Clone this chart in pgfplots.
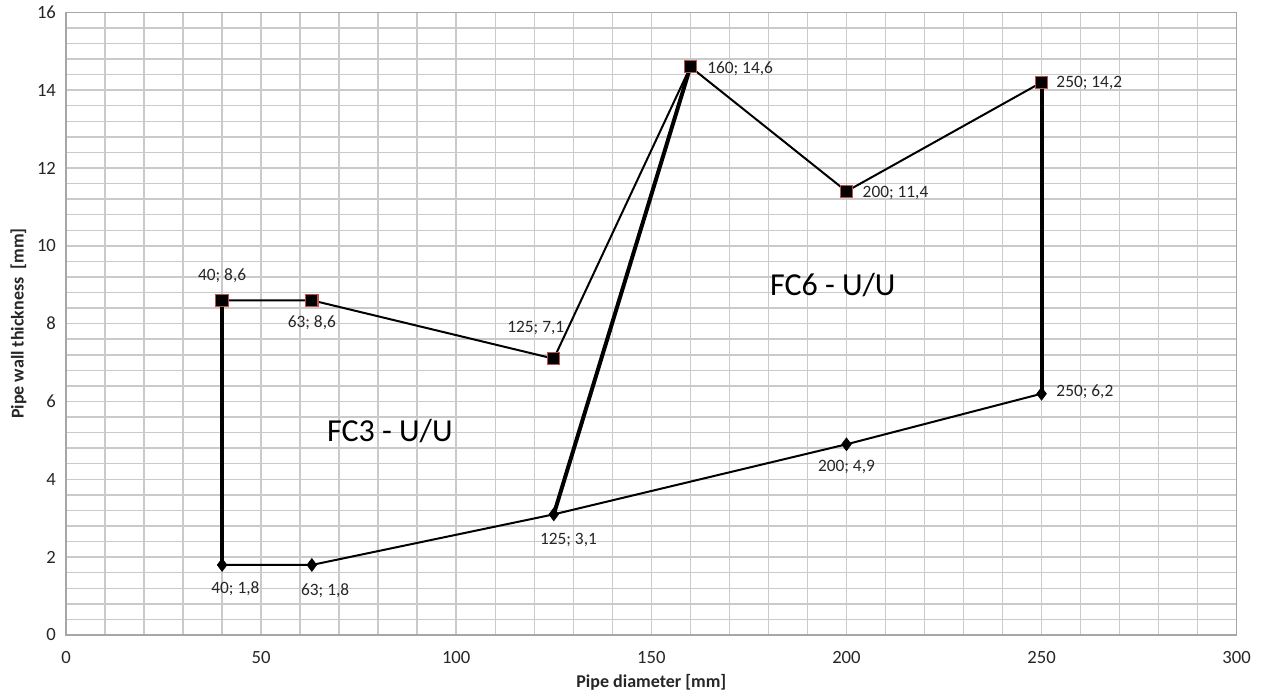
\documentclass[border=0pt]{standalone}
\usepackage{pgfplots}
\pgfplotsset{compat=1.18}
\usepackage{fontspec}
\setmainfont{Carlito}

\definecolor{gridgray}{HTML}{CACACA}
\definecolor{framegray}{HTML}{A6A6A6}
\definecolor{mkred}{HTML}{C0504D}
\definecolor{txt}{HTML}{262626}

\begin{document}
\begin{tikzpicture}
\useasboundingbox (-49.5pt,-48.75pt) rectangle (896.25pt,476.25pt);
\begin{axis}[
    scale only axis,
    width=878pt, height=467pt,
    xmin=0, xmax=300, ymin=0, ymax=16,
    xtick={0,50,...,300}, ytick={0,2,...,16},
    minor x tick num=4,
    minor y tick num=4,
    grid=both,
    major grid style={gridgray, line width=1.1pt},
    minor grid style={gridgray, line width=1.1pt},
    axis line style={framegray, line width=1.2pt},
    major tick length=0pt, minor tick length=0pt,
    /pgf/number format/assume math mode=true,
    tick label style={font=\fontsize{14}{16}\selectfont, text=txt},
    xticklabel style={yshift=-9pt},
    yticklabel style={xshift=-4pt},
    xlabel={\bfseries Pipe diameter [mm]},
    ylabel={\bfseries Pipe wall thickness~~[mm]},
    xlabel style={font=\fontsize{13.5}{15}\selectfont, text=txt, yshift=-1pt},
    ylabel style={font=\fontsize{13.5}{15}\selectfont, text=txt, yshift=1pt},
    clip=false,
]
% thick connecting segments
\addplot[black, line width=3pt] coordinates {(40,1.8) (40,8.6)};
\addplot[black, line width=3pt] coordinates {(125,3.1) (160,14.6)};
\addplot[black, line width=3pt] coordinates {(250,6.2) (250,14.2)};
% upper series
\addplot[black, line width=1.5pt, mark=square*,
    mark options={fill=black, draw=mkred, line width=0.8pt}, mark size=4.6pt]
    coordinates {(40,8.6) (63,8.6) (125,7.1) (160,14.6) (200,11.4) (250,14.2)};
% lower series
\addplot[black, line width=1.5pt, mark=diamond*,
    mark options={fill=black, draw=black, line width=0.5pt}, mark size=4.8pt]
    coordinates {(40,1.8) (63,1.8) (125,3.1) (200,4.9) (250,6.2)};

\begin{scope}[every node/.style={font=\fontsize{13}{15}\selectfont, text=txt, inner sep=0pt}]
\node at ([yshift=18.5pt]axis cs:40,8.6) {40; 8,6};
\node at ([yshift=-17pt]axis cs:63,8.6) {63; 8,6};
\node at ([xshift=-13.5pt,yshift=23pt]axis cs:125,7.1) {125; 7,1};
\node[anchor=west] at ([xshift=12.5pt,yshift=-1.5pt]axis cs:160,14.6) {160; 14,6};
\node[anchor=west] at ([xshift=12pt,yshift=-1pt]axis cs:200,11.4) {200; 11,4};
\node[anchor=west] at ([xshift=11pt,yshift=-0.5pt]axis cs:250,14.2) {250; 14,2};
\node[anchor=west] at ([xshift=11pt,yshift=1.5pt]axis cs:250,6.2) {250; 6,2};
\node at ([xshift=10pt,yshift=-18pt]axis cs:40,1.8) {40; 1,8};
\node at ([xshift=10pt,yshift=-19.5pt]axis cs:63,1.8) {63; 1,8};
\node at ([xshift=11pt,yshift=-19pt]axis cs:125,3.1) {125; 3,1};
\node at ([yshift=-17pt]axis cs:200,4.9) {200; 4,9};
\end{scope}
\node[font=\fontsize{24}{28}\selectfont, text=black] at (axis cs:83,5.25) {FC3 - U/U};
\node[font=\fontsize{24}{28}\selectfont, text=black] at (axis cs:196.5,9.0) {FC6 - U/U};
\end{axis}
\end{tikzpicture}
\end{document}
